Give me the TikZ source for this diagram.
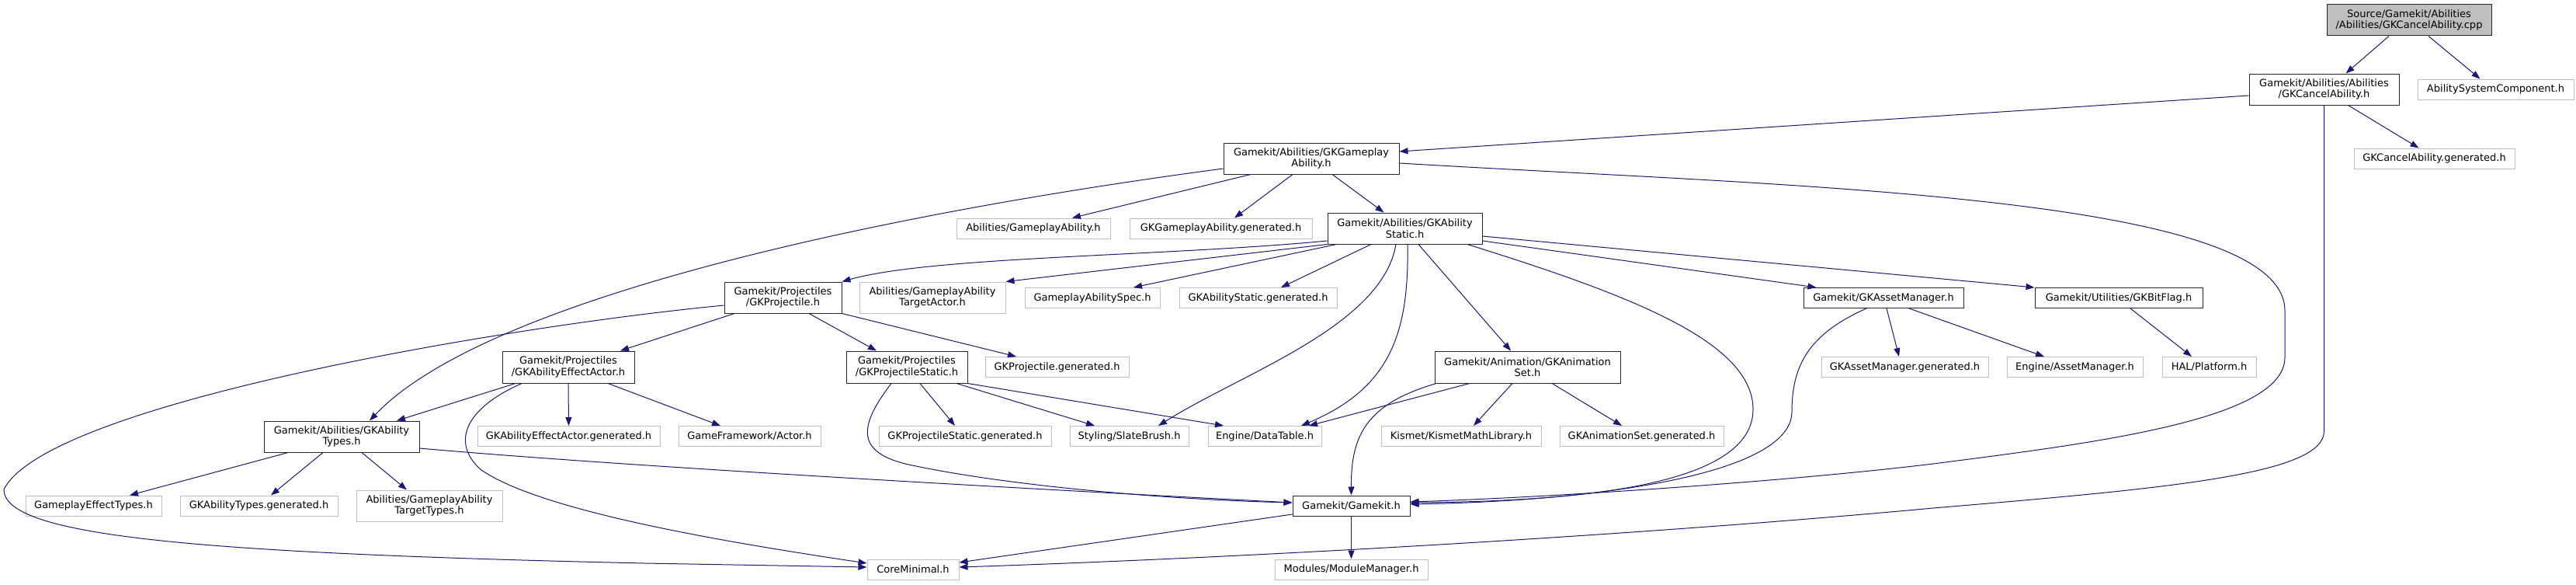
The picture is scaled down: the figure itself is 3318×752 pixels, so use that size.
\documentclass[tikz,border=0pt]{standalone}
\usepackage{fontspec}
\setmainfont{DejaVu Sans}
\usetikzlibrary{arrows.meta}
\definecolor{edgeblue}{HTML}{191970}
\definecolor{extgray}{HTML}{BFBFBF}
\definecolor{rootfill}{HTML}{BFBFBF}
\begin{document}
\begin{tikzpicture}[x=1pt,y=-1pt,
  font=\fontsize{13}{14.5}\selectfont,
  basebox/.style={rectangle,line width=1pt,inner sep=0pt,align=center,fill=white},
  doc/.style={basebox,draw=black!85},
  ext/.style={basebox,draw=extgray},
  rootbox/.style={basebox,draw=black!85,fill=rootfill},
  edge/.style={draw=edgeblue,line width=1pt,-{Triangle[length=11pt,width=8pt]}}]
\useasboundingbox (0,0) rectangle (3318,752);

% nodes
\node[rootbox,minimum width=212pt,minimum height=40pt] (root) at (3103,26) {Source/Gamekit/Abilities\\/Abilities/GKCancelAbility.cpp};
\node[doc,minimum width=193pt,minimum height=40pt] (cah) at (2993.5,115) {Gamekit/Abilities/Abilities\\/GKCancelAbility.h};
\node[ext,minimum width=201pt,minimum height=26pt] (asc) at (3214.5,115) {AbilitySystemComponent.h};
\node[ext,minimum width=207pt,minimum height=26pt] (cagen) at (3135.5,204) {GKCancelAbility.generated.h};
\node[doc,minimum width=226pt,minimum height=40pt] (gah) at (1689,204) {Gamekit/Abilities/GKGameplay\\Ability.h};
\node[ext,minimum width=198pt,minimum height=26pt] (gaext) at (1331,294) {Abilities/GameplayAbility.h};
\node[ext,minimum width=235pt,minimum height=26pt] (gagen) at (1572.5,294) {GKGameplayAbility.generated.h};
\node[doc,minimum width=199pt,minimum height=40pt] (ash) at (1809.5,294) {Gamekit/Abilities/GKAbility\\Static.h};
\node[doc,minimum width=151pt,minimum height=40pt] (gkproj) at (1008.5,383) {Gamekit/Projectiles\\/GKProjectile.h};
\node[ext,minimum width=188pt,minimum height=40pt] (tactor) at (1201,383) {Abilities/GameplayAbility\\TargetActor.h};
\node[ext,minimum width=174pt,minimum height=26pt] (spec) at (1407,383.5) {GameplayAbilitySpec.h};
\node[ext,minimum width=203pt,minimum height=26pt] (asgen) at (1620.5,383.5) {GKAbilityStatic.generated.h};
\node[doc,minimum width=206pt,minimum height=26pt] (assetmgr) at (2426,383.5) {Gamekit/GKAssetManager.h};
\node[doc,minimum width=216pt,minimum height=26pt] (bitflag) at (2729,383.5) {Gamekit/Utilities/GKBitFlag.h};
\node[doc,minimum width=170pt,minimum height=41pt] (aea) at (732,472.5) {Gamekit/Projectiles\\/GKAbilityEffectActor.h};
\node[doc,minimum width=156pt,minimum height=41pt] (pstatic) at (1168,472.5) {Gamekit/Projectiles\\/GKProjectileStatic.h};
\node[ext,minimum width=185pt,minimum height=26pt] (pgen) at (1361.5,472.5) {GKProjectile.generated.h};
\node[doc,minimum width=239pt,minimum height=41pt] (anim) at (1967.5,472.5) {Gamekit/Animation/GKAnimation\\Set.h};
\node[ext,minimum width=215pt,minimum height=26pt] (amgen) at (2453.5,472.5) {GKAssetManager.generated.h};
\node[ext,minimum width=175pt,minimum height=26pt] (eam) at (2672.5,472.5) {Engine/AssetManager.h};
\node[ext,minimum width=121pt,minimum height=26pt] (hal) at (2845.5,472.5) {HAL/Platform.h};
\node[doc,minimum width=200pt,minimum height=40pt] (ath) at (440,562) {Gamekit/Abilities/GKAbility\\Types.h};
\node[ext,minimum width=235pt,minimum height=26pt] (aeagen) at (732.5,561.5) {GKAbilityEffectActor.generated.h};
\node[ext,minimum width=183pt,minimum height=26pt] (actor) at (965.5,561.5) {GameFramework/Actor.h};
\node[ext,minimum width=222pt,minimum height=26pt] (psgen) at (1243,561.5) {GKProjectileStatic.generated.h};
\node[ext,minimum width=153pt,minimum height=26pt] (slate) at (1454.5,561.5) {Styling/SlateBrush.h};
\node[ext,minimum width=146pt,minimum height=26pt] (datatable) at (1629,561.5) {Engine/DataTable.h};
\node[ext,minimum width=206pt,minimum height=26pt] (kismet) at (1882,561.5) {Kismet/KismetMathLibrary.h};
\node[ext,minimum width=211pt,minimum height=26pt] (animgen) at (2114.5,561.5) {GKAnimationSet.generated.h};
\node[ext,minimum width=175pt,minimum height=26pt] (get) at (120.5,651) {GameplayEffectTypes.h};
\node[ext,minimum width=203pt,minimum height=26pt] (atgen) at (333.5,651) {GKAbilityTypes.generated.h};
\node[ext,minimum width=188pt,minimum height=40pt] (ttypes) at (553,651) {Abilities/GameplayAbility\\TargetTypes.h};
\node[doc,minimum width=151pt,minimum height=26pt] (gamekit) at (1740.5,651) {Gamekit/Gamekit.h};
\node[ext,minimum width=118pt,minimum height=26pt] (core) at (1176,733) {CoreMinimal.h};
\node[ext,minimum width=197pt,minimum height=26pt] (modmgr) at (1740.5,733) {Modules/ModuleManager.h};

% edges from root and GKCancelAbility.h
\draw[edge] ([xshift=-26pt]root.south) -- ([xshift=28pt]cah.north);
\draw[edge] ([xshift=25pt]root.south) -- ([xshift=-20pt]asc.north);
\draw[edge] ([yshift=-8pt]cah.west) -- ([yshift=9pt]gah.east);
\draw[edge] ([xshift=31pt]cah.south) -- ([xshift=-20pt]cagen.north);
\draw[edge] (cah.south) -- (2993.5,555) .. controls (2993.5,610) and (2800,628) .. (2490,654) .. controls (2100,690) and (1600,718) .. ([yshift=3pt]core.east);

% edges from GKGameplayAbility.h
\draw[edge] ([yshift=-6pt]gah.east) .. controls (2300,240) and (2943,250) .. (2943,400) -- (2943,460) .. controls (2943,540) and (2700,570) .. (2490,597) .. controls (2300,620) and (2000,640) .. ([yshift=5pt]gamekit.east);
\draw[edge] ([xshift=-78pt]gah.south) -- ([xshift=50pt]gaext.north);
\draw[edge] ([xshift=-24pt]gah.south) -- ([xshift=17.5pt]gagen.north);
\draw[edge] ([xshift=27pt]gah.south) -- ([xshift=-27pt]ash.north);
\draw[edge] ([yshift=-13pt]gah.west) .. controls (1100,280) and (620,390) .. ([xshift=36pt]ath.north);

% edges from GKAbilityStatic.h
\draw[edge] ([yshift=-16pt]ash.west) .. controls (1500,330) and (1200,330) .. (gkproj.north east);
\draw[edge] (ash.south west) -- (tactor.north east);
\draw[edge] ([xshift=-88pt]ash.south) -- ([xshift=53pt]spec.north);
\draw[edge] ([xshift=-43.5pt]ash.south) -- ([xshift=29.5pt]asgen.north);
\draw[edge] ([xshift=-11.5pt]ash.south) .. controls (1780,420) and (1600,480) .. ([xshift=37.5pt]slate.north);
\draw[edge] ([xshift=3.5pt]ash.south) .. controls (1815,430) and (1790,500) .. ([xshift=47pt]datatable.north);
\draw[edge] ([xshift=17.5pt]ash.south) -- ([xshift=-21.5pt]anim.north);
\draw[edge] ([xshift=80.5pt]ash.south) .. controls (2100,380) and (2258,440) .. (2258,527) .. controls (2258,615) and (2080,645) .. ([yshift=4pt]gamekit.east);
\draw[edge] ([yshift=-16pt]ash.east) -- ([xshift=17pt]assetmgr.north west);
\draw[edge] ([yshift=-10pt]ash.east) -- (bitflag.north west);

% edges from GKAssetManager.h and GKBitFlag.h
\draw[edge] ([xshift=-22pt]assetmgr.south) .. controls (2330,430) and (2308,470) .. (2308,530) .. controls (2308,612) and (2050,645) .. ([yshift=2pt]gamekit.east);
\draw[edge] ([xshift=4pt]assetmgr.south) -- ([xshift=-7.5pt]amgen.north);
\draw[edge] ([xshift=33pt]assetmgr.south) -- ([xshift=-39.5pt]eam.north);
\draw[edge] ([xshift=15pt]bitflag.south) -- ([xshift=-22.5pt]hal.north);

% edges from GKProjectile.h
\draw[edge] ([xshift=33.5pt]gkproj.south) -- ([xshift=-39pt]pstatic.north);
\draw[edge] (gkproj.south east) -- ([xshift=-52.5pt]pgen.north);
\draw[edge] ([xshift=-62.5pt]gkproj.south) -- ([xshift=67pt]aea.north);
\draw[edge] ([yshift=-10pt]gkproj.west) .. controls (650,420) and (60,520) .. (5,630) .. controls (5,690) and (250,712) .. (830,725) -- ([yshift=3pt]core.west);

% edges from GKAbilityEffectActor.h
\draw[edge] ([xshift=-68pt]aea.south) -- ([xshift=71pt]ath.north);
\draw[edge] (aea.south) -- (aeagen.north);
\draw[edge] ([xshift=51pt]aea.south) -- ([xshift=-37.5pt]actor.north);
\draw[edge] ([xshift=-60pt]aea.south) .. controls (590,530) and (585,575) .. (620,605) .. controls (700,660) and (950,700) .. ([yshift=8pt]core.west);

% edges from GKAbilityTypes.h
\draw[edge] ([xshift=-69pt]ath.south) -- ([xshift=46.5pt]get.north);
\draw[edge] ([xshift=-24pt]ath.south) -- ([xshift=15.5pt]atgen.north);
\draw[edge] ([xshift=26pt]ath.south) -- ([xshift=-29pt]ttypes.north);
\draw[edge] ([yshift=-15pt]ath.east) .. controls (800,600) and (1300,628) .. ([yshift=4pt]gamekit.west);

% edges from GKProjectileStatic.h
\draw[edge] ([xshift=-20pt]pstatic.south) .. controls (1105,550) and (1100,585) .. (1180,600) .. controls (1300,625) and (1500,643) .. ([yshift=4pt]gamekit.west);
\draw[edge] ([xshift=17pt]pstatic.south) -- ([xshift=-13pt]psgen.north);
\draw[edge] ([xshift=64pt]pstatic.south) -- ([xshift=-44.5pt]slate.north);
\draw[edge] (pstatic.south east) -- ([xshift=-53pt]datatable.north);

% edges from GKAnimationSet.h
\draw[edge] ([xshift=-74.5pt]anim.south) -- ([xshift=57pt]datatable.north);
\draw[edge] ([xshift=-117.5pt]anim.south) .. controls (1760,520) and (1740,560) .. (gamekit.north);
\draw[edge] ([xshift=-19.5pt]anim.south) -- ([xshift=16pt]kismet.north);
\draw[edge] ([xshift=31.5pt]anim.south) -- ([xshift=-25.5pt]animgen.north);

% edges from Gamekit.h
\draw[edge] (gamekit.south) -- (modmgr.north);
\draw[edge] ([yshift=-11pt]gamekit.west) -- ([yshift=9pt]core.east);
\end{tikzpicture}
\end{document}
